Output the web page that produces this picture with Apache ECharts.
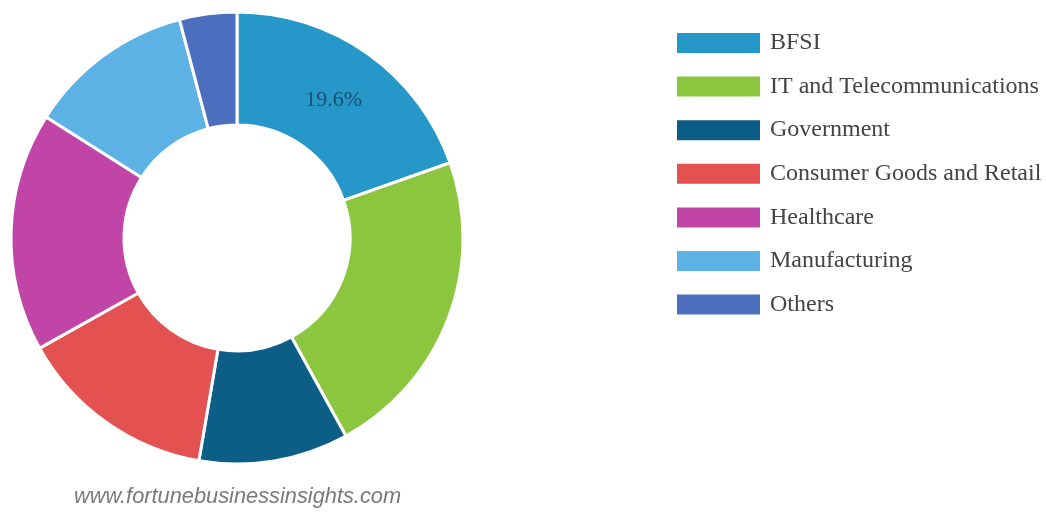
<!DOCTYPE html>
<html>
<head>
<meta charset="utf-8">
<script src="https://cdn.jsdelivr.net/npm/echarts@6/dist/echarts.min.js"></script>
<style>html,body{margin:0;padding:0;background:#fff;}#c{width:1046px;height:516px;}</style>
</head>
<body>
<div id="c"></div>
<script>
const categories = ["BFSI", "IT and Telecommunications", "Government", "Consumer Goods and Retail", "Healthcare", "Manufacturing", "Others"];
const shares = [19.6, 22.4, 10.7, 14.2, 17.1, 11.9, 4.1];
const colors = ["#2597c8", "#8cc63e", "#0c5e86", "#e45151", "#c045a7", "#5cb2e4", "#4b6fbe"];
const labelled = ["BFSI"];

const chart = echarts.init(document.getElementById('c'));
chart.setOption({
  animation: false,
  color: colors,
  title: {
    text: 'www.fortunebusinessinsights.com',
    left: 74, top: 486, padding: 0,
    textStyle: {fontFamily: 'Liberation Sans', fontStyle: 'italic', fontWeight: 'normal', fontSize: 21.8, color: '#7a7a7a'}
  },
  legend: {
    orient: 'vertical',
    left: 675, top: 31, padding: 0,
    icon: 'rect',
    itemWidth: 85, itemHeight: 22, itemGap: 19.6,
    textStyle: {fontFamily: 'Liberation Serif', fontSize: 24, lineHeight: 22, color: '#444', padding: [0,0,0,4]},
    data: categories
  },
  series: [{
    type: 'pie',
    center: [237, 238],
    radius: [113, 226],
    startAngle: 90,
    clockwise: true,
    itemStyle: {borderColor: '#fff', borderWidth: 3},
    label: {show: false},
    labelLine: {show: false},
    emphasis: {disabled: true},
    data: categories.map((n, i) => ({
      name: n, value: shares[i],
      label: labelled.includes(n) ? {show: true, position: 'inside', formatter: '{d}%', fontFamily: 'Liberation Serif', fontSize: 22, color: '#1b4e6e', offset: [-3, 3]} : {show: false}
    }))
  }]
});
</script>
</body>
</html>
